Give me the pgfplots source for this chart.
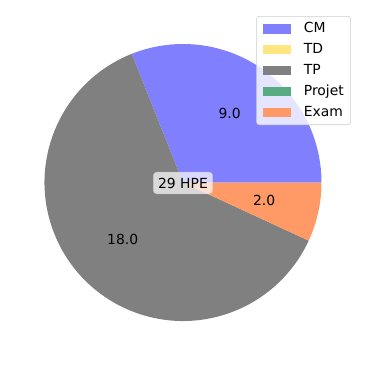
\documentclass[border=0pt]{standalone}
\usepackage{fontspec}
\setmainfont{DejaVu Sans}
\usepackage{pgfplots}
\usepackage{pgfplotstable}
\pgfplotsset{compat=1.18}
\definecolor{cmcol}{HTML}{8080FF}
\definecolor{tdcol}{HTML}{FFE680}
\definecolor{tpcol}{HTML}{808080}
\definecolor{prcol}{HTML}{58AA80}
\definecolor{excol}{HTML}{FF9966}
\pgfplotstableread{
name value
CM 9
TD 0
TP 18
Projet 0
Exam 2
}\piedata
\pgfplotstablegetelem{0}{value}\of\piedata \let\vCM\pgfplotsretval
\pgfplotstablegetelem{1}{value}\of\piedata \let\vTD\pgfplotsretval
\pgfplotstablegetelem{2}{value}\of\piedata \let\vTP\pgfplotsretval
\pgfplotstablegetelem{3}{value}\of\piedata \let\vPR\pgfplotsretval
\pgfplotstablegetelem{4}{value}\of\piedata \let\vEX\pgfplotsretval
\pgfmathsetmacro\tot{\vCM+\vTD+\vTP+\vPR+\vEX}
\pgfmathsetmacro\aA{360*\vCM/\tot}
\pgfmathsetmacro\aB{\aA+360*\vTD/\tot}
\pgfmathsetmacro\aC{\aB+360*\vTP/\tot}
\pgfmathsetmacro\aD{\aC+360*\vPR/\tot}
\pgfmathsetmacro\aE{\aD+360*\vEX/\tot}
\pgfmathsetmacro\mA{\aA/2}
\pgfmathsetmacro\mC{(\aB+\aC)/2}
\pgfmathsetmacro\mE{(\aD+\aE)/2}
\pgfmathsetmacro\totint{int(\tot)}
\def\R{99.72pt}
\def\Rl{59.83pt}
\pgfplotsset{
  piepatch/.style={legend image code/.code={%
    \fill[#1,draw=none,fill opacity=1,sharp corners] (0pt,-3.35pt) rectangle (20pt,3.35pt);
    \path (28.9pt,0pt);}},
}
\begin{document}
\begin{tikzpicture}
\begin{axis}[
  scale only axis, width=263.52pt, height=263.52pt,
  xmin=0, xmax=366, ymin=0, ymax=366,
  hide axis, clip=false,
  legend style={at={(axis cs:351,350)}, anchor=north east,
    draw=black!20, rounded corners=2pt, fill=white, fill opacity=0.8, text opacity=1,
    font=\fontsize{10pt}{12pt}\selectfont,
    row sep=5.5pt, inner xsep=5pt, inner ysep=4.3pt,
    nodes={inner sep=0pt, text height=7.5pt, text depth=2pt}},
  legend cell align=left,
]
\path (axis cs:0,0) (axis cs:366,366);
\fill[cmcol] (axis cs:183,183.5) -- ++(0:\R) arc[start angle=0, end angle=\aA, radius=\R] -- cycle;
\fill[tpcol] (axis cs:183,183.5) -- ++(\aB:\R) arc[start angle=\aB, end angle=\aC, radius=\R] -- cycle;
\fill[excol] (axis cs:183,183.5) -- ++(\aD:\R) arc[start angle=\aD, end angle=\aE, radius=\R] -- cycle;
\path (axis cs:183,183.5) ++(\mA:\Rl) node[font=\fontsize{10pt}{12pt}\selectfont] {9.0};
\path (axis cs:183,183.5) ++(\mC:\Rl) node[font=\fontsize{10pt}{12pt}\selectfont] {18.0};
\path (axis cs:183,183.5) ++(\mE:\Rl) node[font=\fontsize{10pt}{12pt}\selectfont] {2.0};
\node[fill=white, fill opacity=0.7, text opacity=1, draw=white!80!black, draw opacity=0.7, rounded corners=2.5pt, inner xsep=3.5pt, inner ysep=4pt, font=\fontsize{10pt}{12pt}\selectfont] at (axis cs:183,183) {\totint{} HPE};
\addlegendimage{piepatch={fill=cmcol}}\addlegendentry{CM}
\addlegendimage{piepatch={fill=tdcol}}\addlegendentry{TD}
\addlegendimage{piepatch={fill=tpcol}}\addlegendentry{TP}
\addlegendimage{piepatch={fill=prcol}}\addlegendentry{Projet}
\addlegendimage{piepatch={fill=excol}}\addlegendentry{Exam}
\end{axis}
\end{tikzpicture}
\end{document}
